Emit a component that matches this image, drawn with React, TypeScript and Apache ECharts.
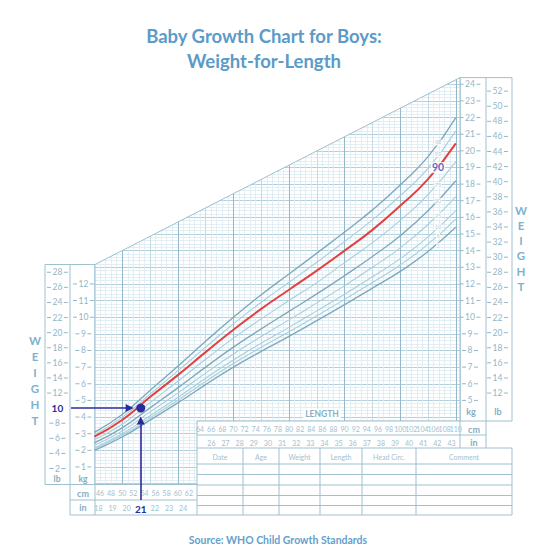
import React, { useEffect, useRef } from 'react';
import * as echarts from 'echarts';

// ---- data ----
const lengthCm = [45, 50, 55, 60, 65, 70, 75, 80, 85, 90, 95, 100, 105, 110];
const p2 = [2.0, 2.8, 3.82, 4.85, 5.95, 7.0, 7.95, 8.85, 9.8, 10.75, 11.75, 12.75, 13.95, 15.4];
const p5 = [2.08, 2.9, 3.95, 5.01, 6.14, 7.22, 8.19, 9.12, 10.09, 11.07, 12.09, 13.14, 14.39, 15.9];
const p10 = [2.16, 3.0, 4.08, 5.17, 6.33, 7.43, 8.44, 9.39, 10.38, 11.38, 12.43, 13.52, 14.83, 16.41];
const p25 = [2.3, 3.16, 4.31, 5.44, 6.64, 7.79, 8.84, 9.84, 10.86, 11.9, 13.0, 14.17, 15.57, 17.25];
const p50 = [2.45, 3.35, 4.55, 5.75, 7.0, 8.2, 9.3, 10.35, 11.4, 12.5, 13.65, 14.9, 16.4, 18.2];
const p75 = [2.64, 3.57, 4.87, 6.15, 7.47, 8.74, 9.9, 11.0, 12.08, 13.28, 14.48, 15.82, 17.37, 19.35];
const p90 = [2.82, 3.82, 5.2, 6.52, 7.9, 9.25, 10.5, 11.65, 12.8, 14.0, 15.25, 16.7, 18.3, 20.45];
const p95 = [2.94, 3.98, 5.38, 6.77, 8.2, 9.6, 10.9, 12.1, 13.3, 14.55, 15.85, 17.3, 18.95, 21.2];
const p98 = [3.08, 4.15, 5.6, 7.05, 8.55, 10.0, 11.35, 12.6, 13.85, 15.12, 16.45, 17.95, 19.65, 22.0];

const percentileNames = ['98', '95', '90', '75', '50', '25', '10', '5', '2'];
const percentileLabelCm = 106.8;
const percentileLabelKg = [20.5, 19.8, 19.0, 17.95, 17.0, 16.1, 15.4, 14.9, 14.3];

const exampleLengthCm = 53.34; // 21 in
const exampleWeightKg = 4.536; // 10 lb

const kgLeftTicks = [1, 2, 3, 4, 5, 6, 7, 8, 9, 10, 11, 12];
const kgRightTicks = [5, 6, 7, 8, 9, 10, 11, 12, 13, 14, 15, 16, 17, 18, 19, 20, 21, 22, 23, 24];
const lbLeftTicks = [2, 4, 6, 8, 10, 12, 14, 16, 18, 20, 22, 24, 26, 28];
const lbRightTicks = [12, 14, 16, 18, 20, 22, 24, 26, 28, 30, 32, 34, 36, 38, 40, 42, 44, 46, 48, 50, 52];
const cmLeftTicks = [46, 48, 50, 52, 54, 56, 58, 60, 62];
const cmRightTicks = [64, 66, 68, 70, 72, 74, 76, 78, 80, 82, 84, 86, 88, 90, 92, 94, 96, 98, 100, 102, 104, 106, 108, 110];
const inLeftTicks = [18, 19, 20, 21, 22, 23, 24];
const inRightTicks = [26, 27, 28, 29, 30, 31, 32, 33, 34, 35, 36, 37, 38, 39, 40, 41, 42, 43];
const highlightLb = 10;
const highlightIn = 21;

const tableHeaders = ['Date', 'Age', 'Weight', 'Length', 'Head Circ.', 'Comment'];

// ---- styles ----
const TITLE = '#5b9bc8';
const BORDER = '#9fc0cf';
const LABEL = '#93b6c7';
const UNIT = '#86aec2';
const FINE = '#dcebf2';
const MAJOR_H = '#b2cfdc';
const MAJOR_V = '#93b9ca';
const MID_V = '#c4dbe5';
const DARK = '#7fa9bc';
const LIGHT = '#a8cfdc';
const RED = '#e2413f';
const ARROW = '#2b2b9c';
const LB_PER_KG = 2.20462;

const dashRich = {
  d: { width: 4, height: 1, backgroundColor: LABEL },
  n: { fontSize: 8.5, color: LABEL, padding: [0, 1.5] },
  h: { fontSize: 10, fontWeight: 'bold', color: ARROW },
};

const yFmt = (list: number[], special?: number) => (v: number) => {
  const r = Math.round(v * 1000) / 1000;
  if (special !== undefined && r === special) return '{h|' + r + '}';
  if (!list.includes(r)) return '';
  return '{d|}{n|' + r + '}{d|}';
};
const xFmt = (list: number[], special?: number) => (v: number) => {
  const r = Math.round(v * 1000) / 1000;
  if (!list.includes(r)) return '';
  if (special !== undefined && r === special) return '{h|' + r + '}';
  return String(r);
};

const line = (x1: number, y1: number, x2: number, y2: number, w = 1, c = BORDER) => ({
  type: 'line', z: 2, silent: true, shape: { x1, y1, x2, y2 }, style: { stroke: c, lineWidth: w },
});
const text = (t: string, x: number, y: number, font = 'bold 9px Lato', fill = UNIT, extra: any = {}) => ({
  type: 'text', z: 3, silent: true,
  style: { text: t, x, y, align: 'center', verticalAlign: 'middle', font, fill, ...extra },
});

export default function App() {
  const ref = useRef<HTMLDivElement>(null);
  useEffect(() => {
    const chart = echarts.init(ref.current!, undefined, { renderer: 'svg', width: 548, height: 560 });

    const curves = [
      { name: '98', data: p98, color: DARK, width: 1.4 },
      { name: '95', data: p95, color: LIGHT, width: 1.1 },
      { name: '75', data: p75, color: LIGHT, width: 1.1 },
      { name: '50', data: p50, color: DARK, width: 1.4 },
      { name: '25', data: p25, color: LIGHT, width: 1.1 },
      { name: '10', data: p10, color: LIGHT, width: 1.1 },
      { name: '5', data: p5, color: LIGHT, width: 1.1 },
      { name: '2', data: p2, color: DARK, width: 1.4 },
      { name: '90', data: p90, color: RED, width: 2 },
    ];

    const xLabelAxis = (grid: number, pos: string, min: number, max: number, interval: number, fmt: any, inside: boolean) => ({
      type: 'value', gridIndex: grid, position: pos, min, max, interval, z: 4,
      axisLine: { show: false }, axisTick: { show: false }, splitLine: { show: false },
      axisLabel: {
        show: true, inside, margin: 4, fontSize: 7, color: '#a2c0ce', formatter: fmt,
        rich: { h: { fontSize: 10, fontWeight: 'bold', color: ARROW } },
      },
    });

    const yLabelAxis = (pos: string, offset: number, max: number, interval: number, margin: number, fmt: any, extra: any = {}) => ({
      type: 'value', gridIndex: 0, position: pos, offset, min: 0, max, interval,
      axisLine: { show: false }, axisTick: { show: false }, splitLine: { show: false },
      axisLabel: { show: true, margin, align: 'center', formatter: fmt, rich: dashRich, color: LABEL, fontSize: 8.5 },
      ...extra,
    });

    const graphic: any[] = [
      // masks
      { type: 'polygon', z: 1, silent: true, shape: { points: [[88, 60], [460, 60], [460, 77.6], [95, 264.5], [88, 264.5]] }, style: { fill: '#fff' } },
      { type: 'rect', z: 1, silent: true, shape: { x: 197, y: 421, width: 264, height: 64 }, style: { fill: '#fff' } },
      // outline
      line(95, 264.5, 460, 77.6),
      line(460, 77.6, 512, 77.6),
      line(460, 77.6, 460, 448),
      line(486, 77.6, 486, 448),
      line(512, 77.6, 512, 421),
      line(486, 421, 512, 421),
      line(197, 421, 486, 421),
      line(197, 435, 486, 435),
      line(197, 448, 512, 448),
      line(197, 421, 197, 515),
      line(197, 464, 512, 464),
      line(197, 474.5, 512, 474.5),
      line(197, 485, 512, 485),
      line(197, 495.5, 512, 495.5),
      line(197, 505.5, 512, 505.5),
      line(70, 515, 512, 515),
      line(512, 448, 512, 515),
      line(243, 448, 243, 515),
      line(279, 448, 279, 515),
      line(320, 448, 320, 515),
      line(362, 448, 362, 515),
      line(416, 448, 416, 515),
      // left panel
      line(45, 264.5, 95, 264.5),
      line(45, 264.5, 45, 484.5),
      line(70, 264.5, 70, 515),
      line(95, 264.5, 95, 515),
      line(45, 484.5, 197, 484.5),
      line(70, 500, 197, 500),
      // titles
      text('Baby Growth Chart for Boys:', 264, 36, 'bold 18.5px Lato', TITLE),
      text('Weight-for-Length', 264, 61, 'bold 18.5px Lato', TITLE),
      text('Source: WHO Child Growth Standards', 278, 540, 'bold 10.5px Lato', '#64a0cc'),
      // units
      text('lb', 57, 478.5, 'bold 8.5px Lato'), text('kg', 83, 478.5, 'bold 8.5px Lato'),
      text('kg', 471, 411), text('lb', 498, 411),
      text('cm', 83, 493), text('in', 83, 507),
      text('cm', 474, 429), text('in', 474, 442),
      text('LENGTH', 322, 414, 'bold 8.5px Lato', UNIT, { backgroundColor: '#fff', padding: [1, 2] }),
    ];
    const tableX = [197, 243, 279, 320, 362, 416, 512];
    tableHeaders.forEach((h, i) => {
      graphic.push(text(h, (tableX[i] + tableX[i + 1]) / 2, 457, '7px Lato', '#a3c1cf'));
    });
    const weightLetters = ['W', 'E', 'I', 'G', 'H', 'T'];
    const leftYs = [340, 356.5, 372, 388, 404, 420];
    const rightYs = [210, 225.5, 240.5, 255.5, 271, 286];
    weightLetters.forEach((ch, i) => {
      graphic.push(text(ch, 35, leftYs[i], 'bold 11.5px Lato', '#80b2cd'));
      graphic.push(text(ch, 521, rightYs[i], 'bold 11.5px Lato', '#80b2cd'));
    });

    const option: any = {
      animation: false,
      textStyle: { fontFamily: 'Lato' },
      grid: [
        { left: 94.4, top: 77.6, width: 365.6, height: 406 },
        { left: 88.84, top: 421, width: 378.11, height: 64 },
        { left: 84.28, top: 435, width: 381.34, height: 65 },
      ],
      xAxis: [
        {
          type: 'value', gridIndex: 0, min: 45, max: 110.75, interval: 5,
          axisLine: { show: false }, axisTick: { show: false }, axisLabel: { show: false },
          splitLine: { show: true, lineStyle: { color: [MID_V, MAJOR_V], width: 1 } },
          minorTick: { show: false, splitNumber: 5 },
          minorSplitLine: { show: true, lineStyle: { color: FINE, width: 0.8 } },
        },
        xLabelAxis(1, 'top', 44, 112, 2, xFmt(cmRightTicks), true),
        xLabelAxis(1, 'bottom', 44, 112, 2, xFmt(cmLeftTicks), false),
        xLabelAxis(2, 'top', 17, 44, 1, xFmt(inRightTicks), true),
        xLabelAxis(2, 'bottom', 17, 44, 1, xFmt(inLeftTicks, highlightIn), false),
      ],
      yAxis: [
        yLabelAxis('right', 0, 24.4, 1, 10, yFmt(kgRightTicks), {
          splitLine: { show: true, lineStyle: { color: MAJOR_H, width: 1 } },
          minorTick: { show: false, splitNumber: 5 },
          minorSplitLine: { show: true, lineStyle: { color: FINE, width: 0.8 } },
        }),
        yLabelAxis('left', 0, 24.4, 1, 11, yFmt(kgLeftTicks)),
        yLabelAxis('left', 25, 24.4 * LB_PER_KG, 2, 12, yFmt(lbLeftTicks, highlightLb)),
        yLabelAxis('right', 26, 24.4 * LB_PER_KG, 2, 11.5, yFmt(lbRightTicks)),
        { type: 'value', gridIndex: 1, show: false },
        { type: 'value', gridIndex: 2, show: false },
      ],
      series: [
        ...curves.map((c) => ({
          type: 'line', name: c.name, xAxisIndex: 0, yAxisIndex: 0,
          data: lengthCm.map((x, i) => [x, c.data[i]]),
          smooth: 0.5, showSymbol: false, symbol: 'none', silent: true,
          z: c.color === RED ? 3 : 2,
          lineStyle: { color: c.color, width: c.width },
          emphasis: { disabled: true },
        })),
        {
          type: 'scatter', name: 'labels', xAxisIndex: 0, yAxisIndex: 0, z: 4, silent: true,
          symbolSize: 1, itemStyle: { color: 'rgba(0,0,0,0)' },
          data: percentileNames.map((n, i) => ({
            name: n, value: [percentileLabelCm, percentileLabelKg[i]],
            label: n === '90'
              ? { fontSize: 10.5, fontWeight: 'bold', color: '#3b3bb2', padding: [0, 1] }
              : undefined,
          })),
          label: {
            show: true, position: 'inside', formatter: '{b}', fontSize: 5.5, color: '#9fc1d0',
            backgroundColor: '#fff', padding: [0, 0.5],
          },
        },
        {
          type: 'scatter', name: 'example', xAxisIndex: 0, yAxisIndex: 0, z: 6, clip: false, silent: true,
          symbolSize: 9, itemStyle: { color: ARROW, opacity: 1 },
          data: [[exampleLengthCm, exampleWeightKg]],
          markLine: {
            silent: true, symbol: ['none', 'triangle'], symbolSize: 8, z: 6,
            lineStyle: { color: ARROW, width: 1.6, type: 'solid' },
            label: { show: false },
            emphasis: { disabled: true },
            data: [
              [{ coord: [45, exampleWeightKg], x: 71 }, { coord: [exampleLengthCm - 2.0, exampleWeightKg] }],
              [{ coord: [exampleLengthCm, 0], y: 500 }, { coord: [exampleLengthCm, exampleWeightKg - 0.74] }],
            ],
          },
        },
      ],
      graphic,
    };
    chart.setOption(option);
    return () => chart.dispose();
  }, []);
  return <div ref={ref} style={{ position: 'absolute', left: 0, top: 0, width: 548, height: 560, background: '#fff' }} />;
}
